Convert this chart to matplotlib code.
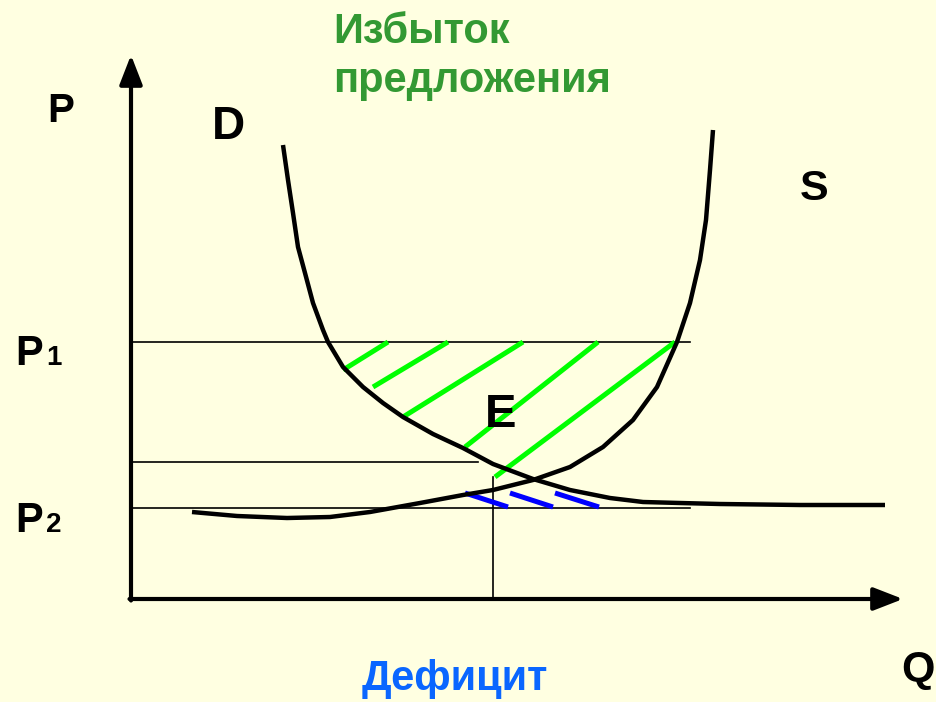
import matplotlib.pyplot as plt

# demand curve D (quantity, price)
d_q = [152, 157, 162, 167, 174, 182, 192, 197, 212, 232, 252, 272, 302, 332,
       362, 402, 439, 479, 512, 549, 589, 669, 754]
d_p = [454, 419, 386, 352, 326, 296, 269, 257, 232, 212, 196, 182, 165, 151,
       135, 120, 109, 101, 97, 96, 95, 94, 94]

# supply curve S
s_q = [61, 106, 156, 199, 239, 289, 332, 362, 402, 439, 472, 502, 526, 546,
       559, 569, 575, 579, 582]
s_p = [87, 83, 81, 82, 87, 96, 104, 109, 119, 132, 152, 179, 212, 257, 296,
       339, 379, 429, 469]

# price levels and equilibrium quantity
p1 = 257
p_mid = 137
p2 = 91
q_e = 362
p_e = 122

# hatching: surplus (green) and deficit (blue) strokes
green_q0 = [212, 242, 272, 334, 364]
green_p0 = [229, 212, 182, 152, 122]
green_q1 = [257, 317, 392, 467, 544]
green_p1 = [257, 257, 257, 257, 257]

blue_q0 = [334, 379, 424]
blue_p0 = [106, 106, 106]
blue_q1 = [377, 422, 468]
blue_p1 = [92, 92, 92]

BG = "#FFFFE1"
plt.rcParams["font.family"] = ["Liberation Sans", "DejaVu Sans"]

fig = plt.figure(figsize=(9.37, 7.02), dpi=100, facecolor=BG)
ax = fig.add_axes([0, 0, 1, 1])
ax.set_facecolor(BG)
ax.set_xlim(-131, 806)
ax.set_ylim(-103, 599)
ax.axis("off")

# axes with arrows
arrow = dict(arrowstyle="-|>,head_length=1.8,head_width=0.7", mutation_scale=10,
             lw=3, color="black", shrinkA=0, shrinkB=0)
ax.annotate("", xy=(0, 544), xytext=(0, -1.5), arrowprops=arrow)
ax.annotate("", xy=(772, 0), xytext=(-1.5, 0), arrowprops=arrow)

# guide lines
ax.plot([0, 559], [p1, p1], color="black", lw=1.2)
ax.plot([0, 347], [p_mid, p_mid], color="black", lw=1.2)
ax.plot([0, 559], [p2, p2], color="black", lw=1.2)
ax.plot([q_e, q_e], [0, p_e], color="black", lw=1.2)

# hatching
for a, b, c, d in zip(green_q0, green_p0, green_q1, green_p1):
    ax.plot([a, c], [b, d], color="#00FF00", lw=3.6, solid_capstyle="butt")
for a, b, c, d in zip(blue_q0, blue_p0, blue_q1, blue_p1):
    ax.plot([a, c], [b, d], color="#0000FF", lw=3.6, solid_capstyle="butt")

# curves
ax.plot(d_q, d_p, color="black", lw=3.2, solid_capstyle="butt", solid_joinstyle="round")
ax.plot(s_q, s_p, color="black", lw=3.2, solid_capstyle="butt", solid_joinstyle="round")

bold = dict(fontweight="bold", ha="left", va="baseline")
ax.text(-84, 477, "P", fontsize=29, **bold)
ax.text(81, 460, "D", fontsize=33, **bold)
ax.text(669, 399, "S", fontsize=31, **bold)
ax.text(354, 172, "E", fontsize=34, **bold)
ax.text(-116, 234, "P", fontsize=30, **bold)
ax.text(-85, 234, "1", fontsize=20, **bold)
ax.text(-116, 67, "P", fontsize=30, **bold)
ax.text(-85, 67, "2", fontsize=20, **bold)
ax.text(804, -82, "Q", fontsize=31, fontweight="bold", ha="right", va="baseline")
ax.text(202, 556, "Избыток", fontsize=30, color="#339933", **bold)
ax.text(202, 507, "предложения", fontsize=30, color="#339933", **bold)
ax.text(231, -91, "Дефицит", fontsize=30, color="#0A66FF", **bold)

fig.savefig("out.png", dpi=100, facecolor=BG)
